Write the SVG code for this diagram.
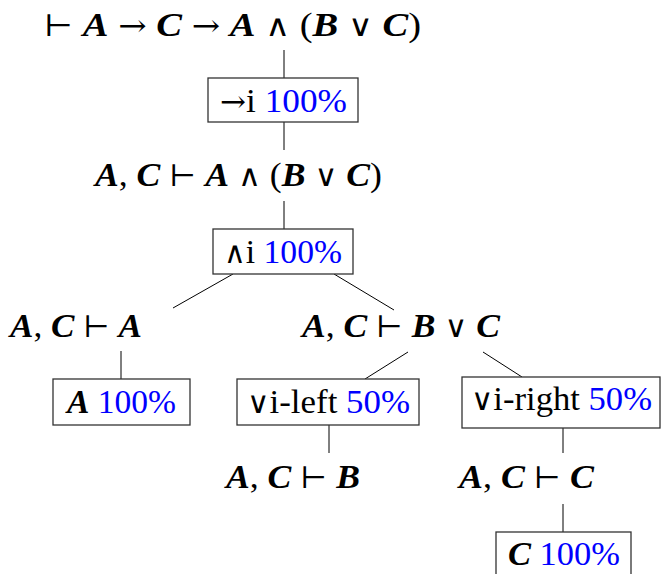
<svg xmlns="http://www.w3.org/2000/svg" width="662" height="574" viewBox="0 0 662 574" font-family="Liberation Serif" font-size="34">
<style>
.v{font-style:italic;font-weight:bold}
.s{font-family:"DejaVu Serif",serif;font-size:30px}
.p{fill:#0000ff}
.box{fill:#fff;stroke:#333;stroke-width:1.3}
.c{stroke:#000;stroke-width:1;fill:none}
</style>
<rect width="662" height="574" fill="#fff"/>
<g id="connectors">
<line class="c" x1="284" y1="50" x2="284" y2="78"/>
<line class="c" x1="284" y1="122" x2="284" y2="150"/>
<line class="c" x1="284" y1="201" x2="284" y2="229"/>
<line class="c" x1="233" y1="274" x2="173" y2="308"/>
<line class="c" x1="334" y1="274" x2="394" y2="310"/>
<line class="c" x1="121" y1="351" x2="121" y2="379"/>
<line class="c" x1="408" y1="352" x2="365" y2="379"/>
<line class="c" x1="483" y1="352" x2="522" y2="377"/>
<line class="c" x1="329" y1="425" x2="329" y2="453"/>
<line class="c" x1="563" y1="428" x2="563" y2="453"/>
<line class="c" x1="563" y1="504" x2="563" y2="532"/>
</g>
<g id="n1"><text x="44" y="36" textLength="377" lengthAdjust="spacingAndGlyphs"><tspan class="s">⊢</tspan> <tspan class="v">A</tspan> <tspan class="s">→</tspan> <tspan class="v">C</tspan> <tspan class="s">→</tspan> <tspan class="v">A</tspan> <tspan class="s">∧</tspan> (<tspan class="v">B</tspan> <tspan class="s">∨</tspan> <tspan class="v">C</tspan>)</text></g>
<g id="r1"><rect class="box" x="208" y="78" width="150" height="44"/><text x="220" y="112" textLength="127" lengthAdjust="spacingAndGlyphs"><tspan class="s">→</tspan>i <tspan class="p">100%</tspan></text></g>
<g id="n2"><text x="95" y="186" textLength="287" lengthAdjust="spacingAndGlyphs"><tspan class="v">A</tspan>, <tspan class="v">C</tspan> <tspan class="s">⊢</tspan> <tspan class="v">A</tspan> <tspan class="s">∧</tspan> (<tspan class="v">B</tspan> <tspan class="s">∨</tspan> <tspan class="v">C</tspan>)</text></g>
<g id="r2"><rect class="box" x="213" y="229" width="140" height="45"/><text x="224" y="263" textLength="118" lengthAdjust="spacingAndGlyphs"><tspan class="s">∧</tspan>i <tspan class="p">100%</tspan></text></g>
<g id="n3"><text x="10" y="337" textLength="132" lengthAdjust="spacingAndGlyphs"><tspan class="v">A</tspan>, <tspan class="v">C</tspan> <tspan class="s">⊢</tspan> <tspan class="v">A</tspan></text></g>
<g id="n4"><text x="302" y="337" textLength="198" lengthAdjust="spacingAndGlyphs"><tspan class="v">A</tspan>, <tspan class="v">C</tspan> <tspan class="s">⊢</tspan> <tspan class="v">B</tspan> <tspan class="s">∨</tspan> <tspan class="v">C</tspan></text></g>
<g id="r3"><rect class="box" x="53" y="379" width="137" height="46"/><text x="67" y="413" textLength="109" lengthAdjust="spacingAndGlyphs"><tspan class="v">A</tspan> <tspan class="p">100%</tspan></text></g>
<g id="r4"><rect class="box" x="237" y="379" width="182" height="46"/><text x="247" y="413" textLength="163" lengthAdjust="spacingAndGlyphs"><tspan class="s">∨</tspan>i-left <tspan class="p">50%</tspan></text></g>
<g id="r5"><rect class="box" x="462" y="377" width="198" height="51"/><text x="471" y="410" textLength="181" lengthAdjust="spacingAndGlyphs"><tspan class="s">∨</tspan>i-right <tspan class="p">50%</tspan></text></g>
<g id="n5"><text x="226" y="488" textLength="134" lengthAdjust="spacingAndGlyphs"><tspan class="v">A</tspan>, <tspan class="v">C</tspan> <tspan class="s">⊢</tspan> <tspan class="v">B</tspan></text></g>
<g id="n6"><text x="459" y="488" textLength="135" lengthAdjust="spacingAndGlyphs"><tspan class="v">A</tspan>, <tspan class="v">C</tspan> <tspan class="s">⊢</tspan> <tspan class="v">C</tspan></text></g>
<g id="r6"><rect class="box" x="496" y="532" width="135" height="50"/><text x="508" y="565" textLength="112" lengthAdjust="spacingAndGlyphs"><tspan class="v">C</tspan> <tspan class="p">100%</tspan></text></g>
</svg>
